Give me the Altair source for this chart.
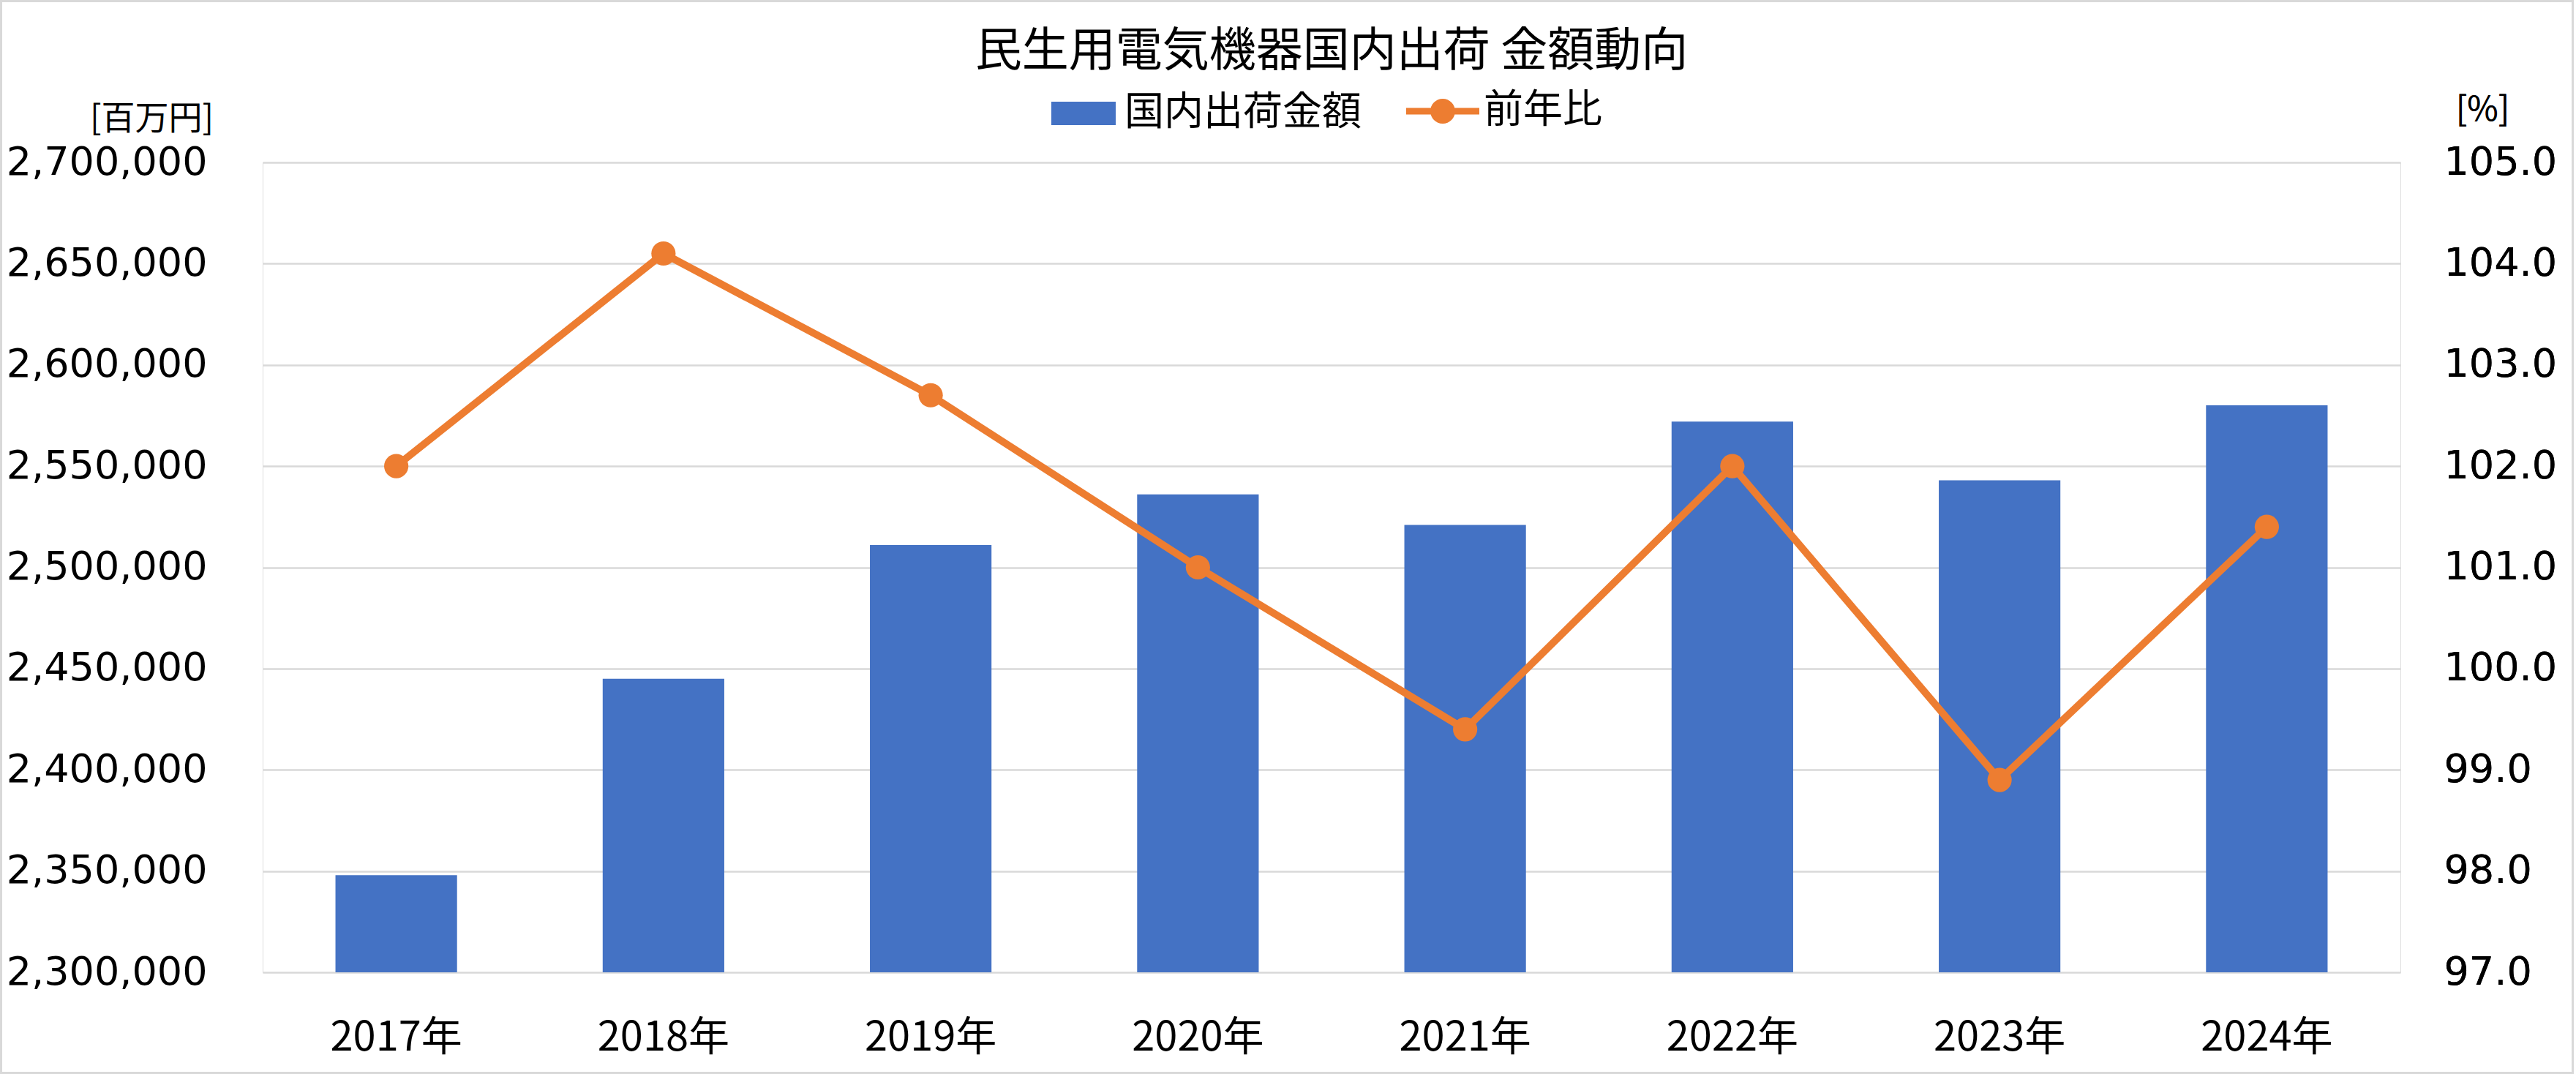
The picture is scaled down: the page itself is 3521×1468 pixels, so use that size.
import altair as alt
import pandas as pd

years = ["2017年", "2018年", "2019年", "2020年", "2021年", "2022年", "2023年", "2024年"]
amount = [2348000, 2445000, 2511000, 2536000, 2521000, 2572000, 2543000, 2580000]
yoy = [102.0, 104.1, 102.7, 101.0, 99.4, 102.0, 98.9, 101.4]
left_ticks = [2300000, 2350000, 2400000, 2450000, 2500000, 2550000, 2600000, 2650000, 2700000]
right_ticks = [97, 98, 99, 100, 101, 102, 103, 104, 105]

BLUE = "#4472C4"
ORANGE = "#ED7D31"
GRID = "#D9D9D9"
CJK = "Noto Sans CJK JP"
NUM = "DejaVu Sans"

W, H = 2922, 1107
PAD_L, PAD_T, PAD_R, PAD_B = 359, 222, 240, 139

df = pd.DataFrame({"year": years, "amount": amount, "yoy": yoy})

xenc = alt.X("year:N", sort=years,
             scale=alt.Scale(paddingInner=0.545, paddingOuter=0.2725),
             axis=alt.Axis(title=None, labelAngle=0, ticks=False, domain=False,
                           labelFont=CJK, labelFontSize=56, labelColor="#000000",
                           labelPadding=62, labelLimit=0, grid=False))

base = alt.Chart(df).transform_calculate(bs="'国内出荷金額'", ls="'前年比'")

bars = base.mark_bar(color=BLUE).encode(
    x=xenc,
    y=alt.Y("amount:Q",
            scale=alt.Scale(domain=[2300000, 2700000], zero=False, nice=False),
            axis=alt.Axis(values=left_ticks, format=",.0f", title="[百万円]",
                          titleAngle=0, titleX=-152, titleY=-60, titleAlign="center",
                          titleBaseline="middle", titleFont=CJK, titleFontSize=46,
                          titleFontWeight="normal", titleColor="#000000",
                          labelFont=NUM, labelFontSize=54, labelColor="#000000",
                          labelPadding=76, labelLimit=0, ticks=False, domain=False,
                          grid=True, gridColor=GRID, gridWidth=2.5)),
    y2=alt.datum(2300000),
    color=alt.Color("bs:N", scale=alt.Scale(domain=["国内出荷金額"], range=[BLUE]),
                    legend=alt.Legend(title=None, orient="none", legendX=1078, legendY=-111,
                                      symbolType="M-1,-0.364H1V0.364H-1Z", symbolSize=7744,
                                      symbolStrokeWidth=0, labelOffset=12, labelLimit=0,
                                      labelFont=CJK, labelFontSize=54, labelColor="#000000",
                                      padding=0)),
)

yright = alt.Y("yoy:Q",
               scale=alt.Scale(domain=[97, 105], zero=False, nice=False),
               axis=alt.Axis(values=right_ticks, format=".1f", orient="right", title="[%]",
                             titleAngle=0, titleX=112, titleY=-72, titleAlign="center",
                             titleBaseline="middle", titleFont=CJK, titleFontSize=46,
                             titleFontWeight="normal", titleColor="#000000",
                             labelFont=NUM, labelFontSize=54, labelColor="#000000",
                             labelPadding=59, labelLimit=0, ticks=False, domain=False,
                             grid=False))

line = base.mark_line(color=ORANGE, strokeWidth=10).encode(x=xenc, y=yright)

sym = ("M-1,-0.09H-0.3V0.09H-1Z M0.3,-0.09H1V0.09H0.3Z "
       "M-0.34,0A0.34,0.34 0 1,1 0.34,0A0.34,0.34 0 1,1 -0.34,0Z")
points = base.mark_point(filled=True, size=1100, opacity=1).encode(
    x=xenc, y=yright,
    color=alt.Color("ls:N", scale=alt.Scale(domain=["前年比"], range=[ORANGE]),
                    legend=alt.Legend(title=None, orient="none", legendX=1563, legendY=-120,
                                      symbolType=sym, symbolSize=10000, symbolStrokeWidth=0,
                                      labelOffset=6, labelLimit=0, labelFont=CJK,
                                      labelFontSize=54, labelColor="#000000", padding=0)),
)

border = alt.Chart(pd.DataFrame({"k": [0]})).mark_rect(
    fill=None, stroke=GRID, strokeWidth=3
).encode(x=alt.value(-PAD_L + 1.5), x2=alt.value(W + PAD_R - 4.5),
         y=alt.value(-PAD_T + 1.5), y2=alt.value(H + PAD_B - 1.5))

chart = alt.layer(bars, line, points, border).resolve_scale(
    y="independent", color="independent"
).properties(
    width=W, height=H,
    title=alt.TitleParams("民生用電気機器国内出荷 金額動向", font=CJK, fontSize=64,
                          fontWeight="normal", color="#000000", anchor="middle",
                          frame="group", offset=-103),
    autosize=alt.AutoSizeParams(type="none"),
    padding={"left": PAD_L, "top": PAD_T, "right": PAD_R, "bottom": PAD_B},
).configure_view(stroke=None).configure(background="#FFFFFF")

chart.save("out.html", embed_options={"renderer": "svg", "actions": False})
